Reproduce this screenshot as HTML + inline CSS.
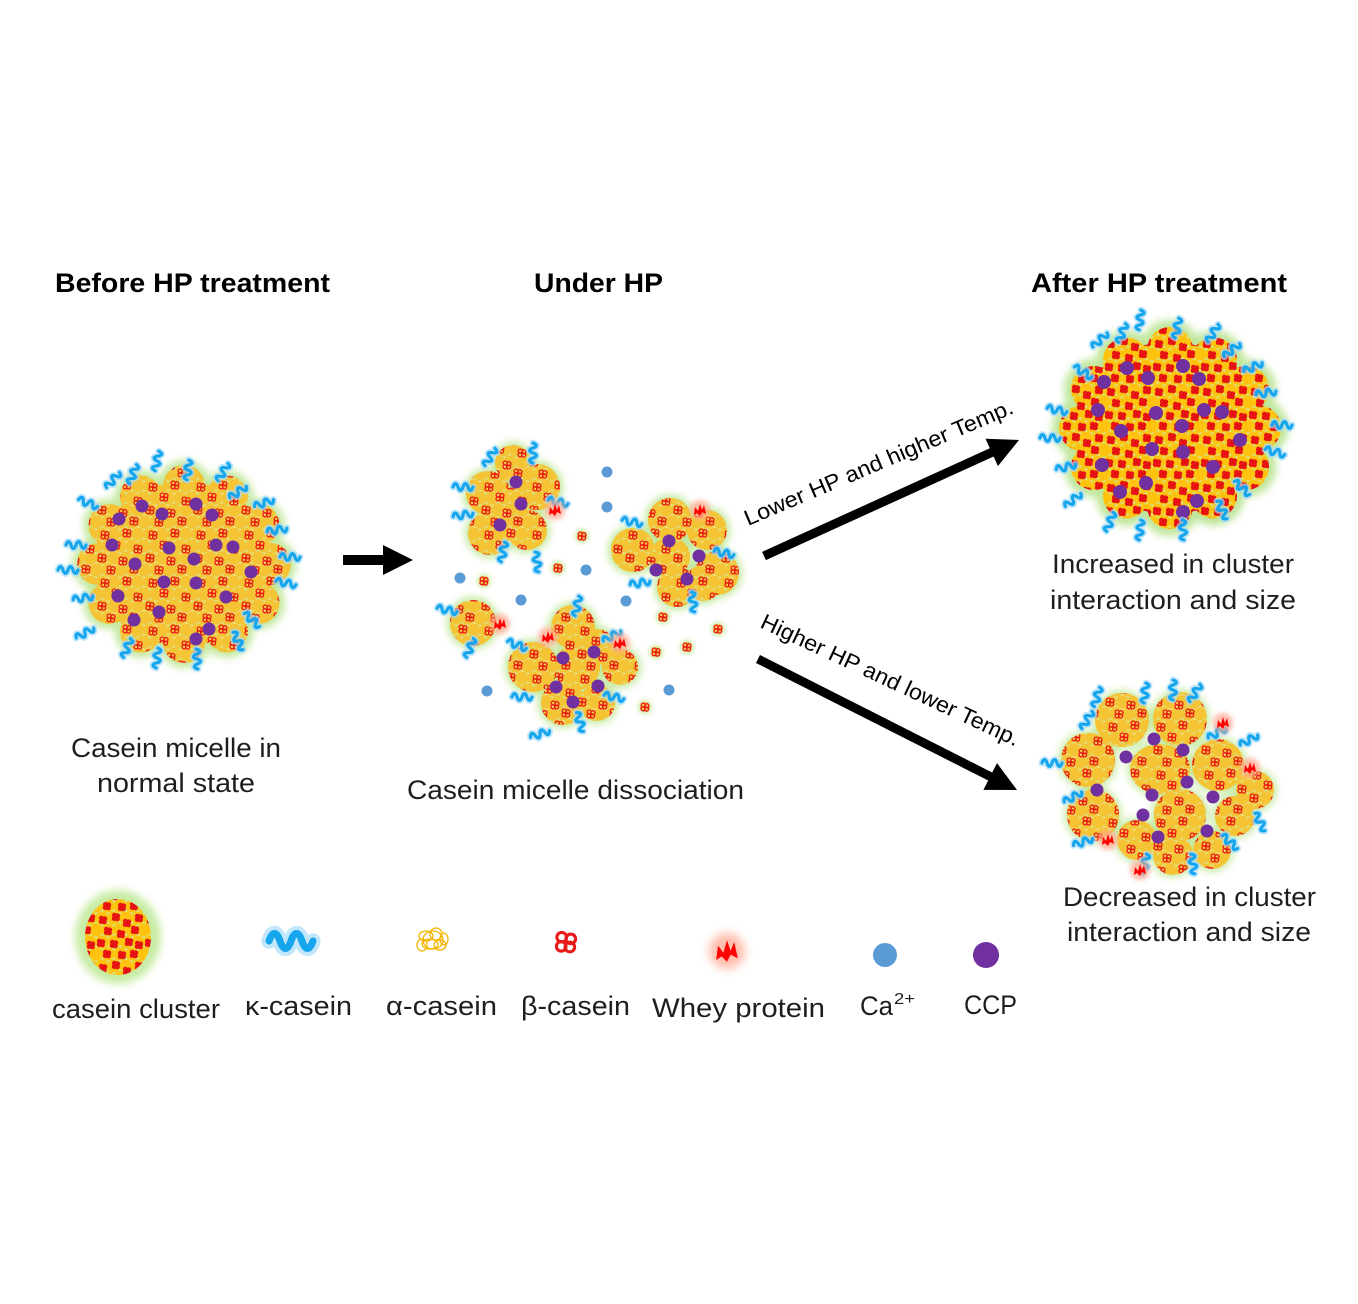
<!DOCTYPE html>
<html><head><meta charset="utf-8"><style>
html,body{margin:0;padding:0;background:#fff;}
svg{display:block;}
text{font-family:"Liberation Sans",sans-serif;}
</style></head><body>
<svg width="1358" height="1304" viewBox="0 0 1358 1304" xmlns="http://www.w3.org/2000/svg">
<defs>
<filter id="gl" x="-30%" y="-30%" width="160%" height="160%"><feGaussianBlur stdDeviation="4"/></filter>
<filter id="b2" x="-50%" y="-50%" width="200%" height="200%"><feGaussianBlur stdDeviation="2.5"/></filter>
<g id="rf" fill="none" stroke="#e81a1a" stroke-width="1.3"><circle cx="-1.8" cy="-2" r="2"/><circle cx="2" cy="-1.3" r="2"/><circle cx="-2" cy="1.8" r="2"/><circle cx="1.6" cy="2.1" r="2"/></g>
<g id="rf2" fill="#ee1515" stroke="#e01010" stroke-width="1"><circle cx="-1.6" cy="-1.8" r="1.9"/><circle cx="1.8" cy="-1.2" r="1.9"/><circle cx="-1.8" cy="1.6" r="1.9"/><circle cx="1.4" cy="1.9" r="1.9"/></g>
<g id="yc">
<circle cx="6" cy="6" r="6.6"/><circle cx="18" cy="6" r="6.6"/><circle cx="30" cy="6" r="6.6"/><circle cx="42" cy="6" r="6.6"/><circle cx="54" cy="6" r="6.6"/>
<circle cx="0" cy="18" r="6.6"/><circle cx="12" cy="18" r="6.6"/><circle cx="24" cy="18" r="6.6"/><circle cx="36" cy="18" r="6.6"/><circle cx="48" cy="18" r="6.6"/>
<circle cx="6" cy="30" r="6.6"/><circle cx="18" cy="30" r="6.6"/><circle cx="30" cy="30" r="6.6"/><circle cx="42" cy="30" r="6.6"/><circle cx="54" cy="30" r="6.6"/>
<circle cx="0" cy="42" r="6.6"/><circle cx="12" cy="42" r="6.6"/><circle cx="24" cy="42" r="6.6"/><circle cx="36" cy="42" r="6.6"/><circle cx="48" cy="42" r="6.6"/>
<circle cx="0" cy="-6" r="6.6"/><circle cx="12" cy="-6" r="6.6"/><circle cx="24" cy="-6" r="6.6"/><circle cx="36" cy="-6" r="6.6"/><circle cx="48" cy="-6" r="6.6"/>
<circle cx="6" cy="54" r="6.6"/><circle cx="18" cy="54" r="6.6"/><circle cx="30" cy="54" r="6.6"/><circle cx="42" cy="54" r="6.6"/>
</g>
<pattern id="p1" width="48" height="48" patternUnits="userSpaceOnUse">
<rect width="48" height="48" fill="#dfe38a"/>
<use href="#yc" fill="#f5c434"/>
<use href="#rf" x="9" y="7"/><use href="#rf" x="31" y="5"/><use href="#rf" x="20" y="17"/><use href="#rf" x="42" y="21"/><use href="#rf" x="6" y="30"/><use href="#rf" x="27" y="33"/><use href="#rf" x="15" y="42"/><use href="#rf" x="38" y="41"/>
</pattern>
<pattern id="p2" width="48" height="48" patternUnits="userSpaceOnUse">
<rect width="48" height="48" fill="#cfe890"/>
<use href="#yc" fill="#ffc20e"/>
<use href="#rf2" x="7" y="8"/><use href="#rf2" x="20" y="5"/><use href="#rf2" x="31" y="11"/><use href="#rf2" x="43" y="6"/><use href="#rf2" x="12" y="19"/><use href="#rf2" x="25" y="22"/><use href="#rf2" x="39" y="18"/><use href="#rf2" x="5" y="31"/><use href="#rf2" x="18" y="32"/><use href="#rf2" x="33" y="30"/><use href="#rf2" x="43" y="33"/><use href="#rf2" x="11" y="42"/><use href="#rf2" x="26" y="43"/><use href="#rf2" x="38" y="42"/>
</pattern>
<g id="sq"><path d="M-10,0 c1.5,-4.5 3.5,-4.5 5,0 s3.5,4.5 5,0 s3.5,-4.5 5,0 s3.5,4.5 5,0" fill="none" stroke="#a8dcfa" stroke-width="7" stroke-linecap="round" opacity=".7"/><path d="M-10,0 c1.5,-4.5 3.5,-4.5 5,0 s3.5,4.5 5,0 s3.5,-4.5 5,0 s3.5,4.5 5,0" fill="none" stroke="#16a6ee" stroke-width="3.2" stroke-linecap="round"/></g>
<g id="wp"><circle r="10" fill="#ffa890" opacity=".75" filter="url(#b2)"/><path d="M-6,5 L-5,-3 L-2,1 L0,-6 L2,0 L4,-5 L6,4 L2,2 L0,6 L-3,3 Z" fill="#f00"/></g>
<g id="ff"><circle r="7" fill="#cdeda6" filter="url(#b2)"/><circle r="5" fill="#f1c74a"/><use href="#rf"/></g>

<g id="m1"><ellipse cx="184" cy="564" rx="90" ry="82"/>
<circle cx="270" cy="564" r="21"/><circle cx="258.5" cy="525" r="21"/><circle cx="227" cy="496.5" r="21"/><circle cx="184" cy="486" r="21"/><circle cx="141" cy="496.5" r="21"/><circle cx="109.5" cy="525" r="21"/><circle cx="98" cy="564" r="21"/><circle cx="109.5" cy="603" r="21"/><circle cx="141" cy="631.5" r="21"/><circle cx="184" cy="642" r="21"/><circle cx="227" cy="631.5" r="21"/><circle cx="258.5" cy="603" r="21"/></g>
<g id="m3"><ellipse cx="1170" cy="428" rx="95" ry="86"/>
<circle cx="1258" cy="428" r="23"/><circle cx="1246" cy="389" r="23"/><circle cx="1214" cy="360.5" r="23"/><circle cx="1170" cy="350" r="23"/><circle cx="1126" cy="360.5" r="23"/><circle cx="1094" cy="389" r="23"/><circle cx="1082" cy="428" r="23"/><circle cx="1094" cy="467" r="23"/><circle cx="1126" cy="495.5" r="23"/><circle cx="1170" cy="506" r="23"/><circle cx="1214" cy="495.5" r="23"/><circle cx="1246" cy="467" r="23"/></g>
<g id="m4"><circle cx="1122" cy="720" r="27"/><circle cx="1180" cy="719" r="27"/><circle cx="1088" cy="760" r="27"/><ellipse cx="1160" cy="769" rx="30" ry="25"/><circle cx="1218" cy="765" r="26"/><circle cx="1255" cy="790" r="19"/><circle cx="1093" cy="815" r="26"/><circle cx="1137" cy="840" r="20"/><circle cx="1180" cy="815" r="26"/><circle cx="1173" cy="855" r="20"/><circle cx="1212" cy="850" r="19"/><circle cx="1235" cy="816" r="20"/></g>
<g id="m2"><circle cx="513" cy="463" r="18"/><circle cx="488" cy="493" r="22"/><circle cx="537" cy="487" r="23"/><circle cx="490" cy="533" r="22"/><circle cx="527" cy="530" r="20"/><circle cx="507" cy="507" r="20"/>
<circle cx="670" cy="520" r="22"/><circle cx="707" cy="530" r="20"/><circle cx="633" cy="550" r="22"/><circle cx="670" cy="557" r="20"/><circle cx="717" cy="573" r="22"/><circle cx="677" cy="587" r="20"/><circle cx="703" cy="583" r="18"/>
<circle cx="473" cy="623" r="23"/>
<circle cx="573" cy="627" r="22"/><circle cx="533" cy="667" r="25"/><circle cx="577" cy="667" r="23"/><circle cx="620" cy="667" r="18"/><circle cx="563" cy="703" r="22"/><circle cx="597" cy="703" r="18"/><circle cx="597" cy="647" r="18"/></g>
</defs>

<rect width="1358" height="1304" fill="#fff"/>

<!-- Titles -->
<text x="55" y="292" font-size="27" font-weight="bold" fill="#000" textLength="275" lengthAdjust="spacingAndGlyphs">Before HP treatment</text>
<text x="534" y="292" font-size="27" font-weight="bold" fill="#000" textLength="129" lengthAdjust="spacingAndGlyphs">Under HP</text>
<text x="1031" y="292" font-size="27" font-weight="bold" fill="#000" textLength="256" lengthAdjust="spacingAndGlyphs">After HP treatment</text>

<!-- Micelle 1 -->
<use href="#m1" fill="#c2e89c" stroke="#c2e89c" stroke-width="10" filter="url(#gl)"/>
<use href="#m1" fill="url(#p1)"/>
<g fill="#7030a0">
<circle cx="142" cy="506" r="6.5"/><circle cx="119" cy="519" r="6.5"/><circle cx="162" cy="514" r="6.5"/><circle cx="196" cy="504" r="6.5"/><circle cx="212" cy="515" r="6.5"/><circle cx="112" cy="545" r="6.5"/><circle cx="169" cy="548" r="6.5"/><circle cx="216" cy="545" r="6.5"/><circle cx="233" cy="547" r="6.5"/><circle cx="194" cy="559" r="6.5"/><circle cx="135" cy="564" r="6.5"/><circle cx="164" cy="582" r="6.5"/><circle cx="196" cy="583" r="6.5"/><circle cx="251" cy="572" r="6.5"/><circle cx="118" cy="596" r="6.5"/><circle cx="226" cy="597" r="6.5"/><circle cx="159" cy="612" r="6.5"/><circle cx="134" cy="620" r="6.5"/><circle cx="209" cy="629" r="6.5"/><circle cx="196" cy="639" r="6.5"/>
</g>
<use href="#sq" transform="translate(157,461) rotate(-80)"/><use href="#sq" transform="translate(133,474) rotate(-70)"/><use href="#sq" transform="translate(113,480) rotate(-50)"/><use href="#sq" transform="translate(188,470) rotate(-85)"/><use href="#sq" transform="translate(223,472) rotate(-60)"/><use href="#sq" transform="translate(238,492) rotate(-35)"/><use href="#sq" transform="translate(264,503) rotate(-20)"/><use href="#sq" transform="translate(277,530) rotate(-10)"/><use href="#sq" transform="translate(290,557)"/><use href="#sq" transform="translate(286,583) rotate(10)"/><use href="#sq" transform="translate(88,503) rotate(200)"/><use href="#sq" transform="translate(76,545) rotate(180)"/><use href="#sq" transform="translate(68,570) rotate(180)"/><use href="#sq" transform="translate(83,598) rotate(170)"/><use href="#sq" transform="translate(85,633) rotate(150)"/><use href="#sq" transform="translate(127,648) rotate(110)"/><use href="#sq" transform="translate(157,658) rotate(95)"/><use href="#sq" transform="translate(197,659) rotate(85)"/><use href="#sq" transform="translate(238,641) rotate(60)"/><use href="#sq" transform="translate(252,620) rotate(40)"/>

<!-- Arrow 1 -->
<polygon points="343,555 383,555 383,545 413,560 383,575 383,565 343,565" fill="#000"/>

<!-- Micelle 2 -->
<use href="#m2" fill="#c2e89c" stroke="#c2e89c" stroke-width="6" filter="url(#gl)"/>
<use href="#m2" fill="url(#p1)"/>
<g fill="#7030a0">
<circle cx="516" cy="482" r="6.5"/><circle cx="521" cy="504" r="6.5"/><circle cx="500" cy="525" r="6.5"/>
<circle cx="669" cy="541" r="6.5"/><circle cx="699" cy="556" r="6.5"/><circle cx="656" cy="570" r="6.5"/><circle cx="687" cy="579" r="6.5"/>
<circle cx="563" cy="658" r="6.5"/><circle cx="594" cy="652" r="6.5"/><circle cx="556" cy="687" r="6.5"/><circle cx="598" cy="686" r="6.5"/><circle cx="573" cy="702" r="6.5"/>
</g>
<g fill="#5b9bd5">
<circle cx="607" cy="472" r="5.5"/><circle cx="607" cy="507" r="5.5"/><circle cx="460" cy="578" r="5.5"/><circle cx="586" cy="570" r="5.5"/><circle cx="521" cy="600" r="5.5"/><circle cx="626" cy="601" r="5.5"/><circle cx="487" cy="691" r="5.5"/><circle cx="669" cy="690" r="5.5"/>
</g>
<use href="#ff" x="582" y="536"/><use href="#ff" x="558" y="568"/><use href="#ff" x="484" y="581"/><use href="#ff" x="663" y="617"/><use href="#ff" x="718" y="629"/><use href="#ff" x="656" y="652"/><use href="#ff" x="687" y="647"/><use href="#ff" x="645" y="707"/>
<use href="#sq" transform="translate(490,457) rotate(-60)"/><use href="#sq" transform="translate(533,453) rotate(-90)"/><use href="#sq" transform="translate(463,487) rotate(180)"/><use href="#sq" transform="translate(463,515) rotate(170)"/><use href="#sq" transform="translate(558,502) rotate(10)"/><use href="#sq" transform="translate(503,552) rotate(100)"/><use href="#sq" transform="translate(537,562) rotate(80)"/><use href="#sq" transform="translate(632,522) rotate(190)"/><use href="#sq" transform="translate(724,553) rotate(10)"/><use href="#sq" transform="translate(640,583) rotate(170)"/><use href="#sq" transform="translate(693,602) rotate(80)"/><use href="#sq" transform="translate(447,610) rotate(190)"/><use href="#sq" transform="translate(470,648) rotate(110)"/><use href="#sq" transform="translate(577,606) rotate(-80)"/><use href="#sq" transform="translate(517,645) rotate(200)"/><use href="#sq" transform="translate(612,636) rotate(-30)"/><use href="#sq" transform="translate(522,697) rotate(180)"/><use href="#sq" transform="translate(614,697) rotate(10)"/><use href="#sq" transform="translate(540,734) rotate(160)"/><use href="#sq" transform="translate(580,722) rotate(70)"/>
<use href="#wp" x="555" y="510"/><use href="#wp" x="700" y="510"/><use href="#wp" x="500" y="624"/><use href="#wp" x="548" y="637"/><use href="#wp" x="620" y="643"/>

<text x="407" y="799" font-size="27" fill="#1e1e1e" textLength="337" lengthAdjust="spacingAndGlyphs">Casein micelle dissociation</text>
<text x="71" y="757" font-size="27" fill="#1e1e1e" textLength="210" lengthAdjust="spacingAndGlyphs">Casein micelle in</text>
<text x="97" y="792" font-size="27" fill="#1e1e1e" textLength="158" lengthAdjust="spacingAndGlyphs">normal state</text>

<!-- Diagonal arrows -->
<polygon points="762.1,551.9 989.8,448.3 985.5,438.7 1019,440 997.9,466.1 993.6,456.5 765.9,560.1" fill="#000"/>
<polygon points="760,655 992.2,772.5 997,763.1 1017,790 983.4,789.9 988.2,780.5 756,663" fill="#000"/>
<text transform="translate(748,526) rotate(-23)" font-size="22" fill="#000" textLength="290" lengthAdjust="spacingAndGlyphs">Lower HP and higher Temp.</text>
<text transform="translate(759,627) rotate(25)" font-size="22" fill="#000" textLength="283" lengthAdjust="spacingAndGlyphs">Higher HP and lower Temp.</text>

<!-- Micelle 3 -->
<use href="#m3" fill="#bfe69a" stroke="#bfe69a" stroke-width="14" filter="url(#gl)"/>
<use href="#m3" fill="url(#p2)"/>
<g fill="#7030a0">
<circle cx="1127" cy="368" r="7"/><circle cx="1104" cy="382" r="7"/><circle cx="1148" cy="378" r="7"/><circle cx="1183" cy="366" r="7"/><circle cx="1199" cy="379" r="7"/><circle cx="1098" cy="410" r="7"/><circle cx="1156" cy="413" r="7"/><circle cx="1204" cy="410" r="7"/><circle cx="1222" cy="412" r="7"/><circle cx="1182" cy="426" r="7"/><circle cx="1121" cy="431" r="7"/><circle cx="1152" cy="449" r="7"/><circle cx="1183" cy="452" r="7"/><circle cx="1240" cy="440" r="7"/><circle cx="1102" cy="465" r="7"/><circle cx="1213" cy="467" r="7"/><circle cx="1146" cy="483" r="7"/><circle cx="1120" cy="492" r="7"/><circle cx="1197" cy="501" r="7"/><circle cx="1183" cy="512" r="7"/>
</g>
<use href="#sq" transform="translate(1140,320) rotate(-85)"/><use href="#sq" transform="translate(1122,333) rotate(-70)"/><use href="#sq" transform="translate(1100,340) rotate(-45)"/><use href="#sq" transform="translate(1177,328) rotate(-80)"/><use href="#sq" transform="translate(1213,333) rotate(-60)"/><use href="#sq" transform="translate(1232,350) rotate(-40)"/><use href="#sq" transform="translate(1253,367) rotate(-25)"/><use href="#sq" transform="translate(1266,393) rotate(-10)"/><use href="#sq" transform="translate(1282,425)"/><use href="#sq" transform="translate(1275,452) rotate(15)"/><use href="#sq" transform="translate(1083,372) rotate(-150)"/><use href="#sq" transform="translate(1057,410) rotate(-170)"/><use href="#sq" transform="translate(1050,438) rotate(180)"/><use href="#sq" transform="translate(1066,467) rotate(165)"/><use href="#sq" transform="translate(1073,500) rotate(140)"/><use href="#sq" transform="translate(1110,522) rotate(110)"/><use href="#sq" transform="translate(1140,530) rotate(95)"/><use href="#sq" transform="translate(1183,530) rotate(85)"/><use href="#sq" transform="translate(1222,510) rotate(60)"/><use href="#sq" transform="translate(1242,488) rotate(40)"/>
<text x="1052" y="573" font-size="27" fill="#1e1e1e" textLength="242" lengthAdjust="spacingAndGlyphs">Increased in cluster</text>
<text x="1050" y="609" font-size="27" fill="#1e1e1e" textLength="246" lengthAdjust="spacingAndGlyphs">interaction and size</text>

<!-- Micelle 4 -->
<use href="#m4" fill="#c6eaa2" stroke="#c6eaa2" stroke-width="5" filter="url(#gl)"/>
<use href="#m4" fill="url(#p1)"/>
<g fill="#7030a0">
<circle cx="1154" cy="739" r="6.5"/><circle cx="1183" cy="750" r="6.5"/><circle cx="1126" cy="757" r="6.5"/><circle cx="1187" cy="782" r="6.5"/><circle cx="1097" cy="790" r="6.5"/><circle cx="1152" cy="795" r="6.5"/><circle cx="1213" cy="797" r="6.5"/><circle cx="1143" cy="815" r="6.5"/><circle cx="1207" cy="831" r="6.5"/><circle cx="1158" cy="837" r="6.5"/>
</g>
<use href="#sq" transform="translate(1097,697) rotate(-75)"/><use href="#sq" transform="translate(1145,693) rotate(-85)"/><use href="#sq" transform="translate(1173,690) rotate(-90)"/><use href="#sq" transform="translate(1195,693) rotate(-60)"/><use href="#sq" transform="translate(1087,720) rotate(-60)"/><use href="#sq" transform="translate(1052,763) rotate(180)"/><use href="#sq" transform="translate(1073,797) rotate(150)"/><use href="#sq" transform="translate(1083,842) rotate(160)"/><use href="#sq" transform="translate(1217,733) rotate(-30)"/><use href="#sq" transform="translate(1249,740) rotate(-30)"/><use href="#sq" transform="translate(1260,822) rotate(60)"/><use href="#sq" transform="translate(1230,842) rotate(40)"/><use href="#sq" transform="translate(1193,864) rotate(80)"/><use href="#sq" transform="translate(1145,864) rotate(100)"/>
<use href="#wp" x="1223" y="723"/><use href="#wp" x="1250" y="768"/><use href="#wp" x="1108" y="840"/><use href="#wp" x="1140" y="870"/>
<text x="1063" y="906" font-size="27" fill="#1e1e1e" textLength="253" lengthAdjust="spacingAndGlyphs">Decreased in cluster</text>
<text x="1067" y="941" font-size="27" fill="#1e1e1e" textLength="244" lengthAdjust="spacingAndGlyphs">interaction and size</text>

<!-- Legend -->
<ellipse cx="118" cy="937" rx="43" ry="47" fill="#c8eca4" filter="url(#gl)"/>
<ellipse cx="118" cy="937" rx="33" ry="38" fill="url(#p2)"/>
<use href="#sq" transform="translate(291,941) scale(2.2)"/>
<g fill="none" stroke="#f5b400" stroke-width="1.3">
<ellipse cx="426" cy="936" rx="7" ry="5"/><ellipse cx="436" cy="934" rx="6" ry="6"/><ellipse cx="430" cy="944" rx="8" ry="5"/><ellipse cx="440" cy="945" rx="6" ry="5"/><ellipse cx="422" cy="945" rx="5" ry="6"/><ellipse cx="433" cy="940" rx="10" ry="9"/><ellipse cx="444" cy="939" rx="4" ry="6"/>
</g>
<use href="#rf" transform="translate(566,942) scale(2.4)"/>
<use href="#wp" transform="translate(727,951) scale(1.8)"/>
<circle cx="885" cy="955" r="12" fill="#5b9bd5"/>
<circle cx="986" cy="955" r="13" fill="#7030a0"/>
<g font-size="27" fill="#1e1e1e">
<text x="52" y="1018" textLength="168" lengthAdjust="spacingAndGlyphs">casein cluster</text>
<text x="245" y="1015" textLength="107" lengthAdjust="spacingAndGlyphs">κ-casein</text>
<text x="386" y="1015" textLength="111" lengthAdjust="spacingAndGlyphs">α-casein</text>
<text x="521" y="1015" textLength="109" lengthAdjust="spacingAndGlyphs">β-casein</text>
<text x="652" y="1017" textLength="173" lengthAdjust="spacingAndGlyphs">Whey protein</text>
<text x="860" y="1015" textLength="33" lengthAdjust="spacingAndGlyphs">Ca</text>
<text x="894" y="1004" font-size="16" textLength="21" lengthAdjust="spacingAndGlyphs">2+</text>
<text x="964" y="1014" textLength="53" lengthAdjust="spacingAndGlyphs">CCP</text>
</g>
</svg>
</body></html>
